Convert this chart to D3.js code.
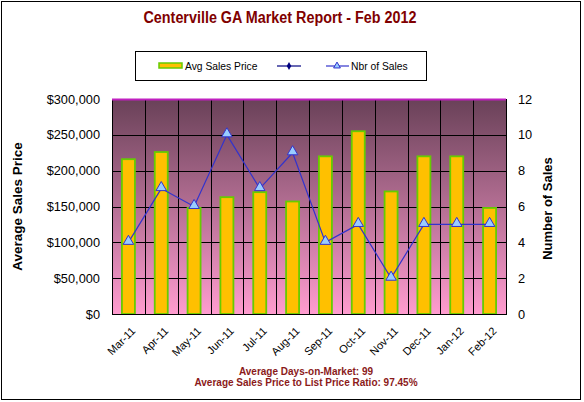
<!DOCTYPE html>
<html>
<head>
<meta charset="utf-8">
<script src="https://cdn.jsdelivr.net/npm/d3@7"></script>
<style>
  body { margin:0; background:#fff; }
  svg text { font-family: "Liberation Sans", Arial, sans-serif; }
</style>
</head>
<body>
<div id="chart"></div>
<script>
// data
var months = ["Mar-11","Apr-11","May-11","Jun-11","Jul-11","Aug-11","Sep-11","Oct-11","Nov-11","Dec-11","Jan-12","Feb-12"];
var avgPrice = [216000, 226000, 148000, 163000, 170000, 157000, 220000, 255000, 171000, 220000, 220000, 148000];
var nbrSales = [4, 7, 6, 10, 7, 9, 4, 5, 2, 5, 5, 5];
var priceTicks = [0, 50000, 100000, 150000, 200000, 250000, 300000];
var salesTicks = [0, 2, 4, 6, 8, 10, 12];

var W = 584, H = 402;
var m = { left:112, right:78, top:99, bottom:88 };
var pw = W - m.left - m.right, ph = H - m.top - m.bottom;

var svg = d3.select("#chart").append("svg")
    .attr("width", W).attr("height", H);

// outer frame
svg.append("rect").attr("x", 1.5).attr("y", 1.5)
    .attr("width", 579).attr("height", 398)
    .attr("fill", "#fff").attr("stroke", "#000").attr("stroke-width", 1);

var grad = svg.append("defs").append("linearGradient")
    .attr("id", "bg").attr("x1", 0).attr("y1", 0).attr("x2", 0).attr("y2", 1);
grad.append("stop").attr("offset", "0%").attr("stop-color", "#694158");
grad.append("stop").attr("offset", "100%").attr("stop-color", "#ff9ccf");

// title
svg.append("text").attr("x", 280).attr("y", 23)
    .attr("text-anchor", "middle").attr("font-size", 16).attr("font-weight", "bold")
    .attr("textLength", 273).attr("lengthAdjust", "spacingAndGlyphs")
    .attr("fill", "#800000").text("Centerville GA Market Report - Feb 2012");

// scales
var x = d3.scaleBand().domain(months).range([0, pw]);
var yL = d3.scaleLinear().domain([0, 300000]).range([ph, 0]);
var yR = d3.scaleLinear().domain([0, 12]).range([ph, 0]);

var g = svg.append("g").attr("transform", "translate(" + m.left + "," + m.top + ")");

g.append("rect").attr("width", pw).attr("height", ph).attr("fill", "url(#bg)");

// grid
g.selectAll(".hg").data(priceTicks).enter().append("line")
    .attr("x1", 0).attr("x2", pw)
    .attr("y1", function(d){ return Math.round(yL(d)) + 0.5; })
    .attr("y2", function(d){ return Math.round(yL(d)) + 0.5; })
    .attr("stroke", "#000");
g.selectAll(".vg").data(months).enter().append("line")
    .attr("x1", function(d){ return Math.round(x(d)) + 0.5; })
    .attr("x2", function(d){ return Math.round(x(d)) + 0.5; })
    .attr("y1", 0).attr("y2", ph)
    .attr("stroke", "#000");

// bars
var bw = 13;
g.selectAll(".bar").data(avgPrice).enter().append("rect")
    .attr("x", function(d, i){ return x(months[i]) + x.bandwidth()/2 - bw/2; })
    .attr("y", function(d){ return yL(d); })
    .attr("width", bw)
    .attr("height", function(d){ return ph - yL(d); })
    .attr("fill", "#ffc000").attr("stroke", "#66cc00").attr("stroke-width", 1.8);

// frame of plot
g.append("rect").attr("x", 0.5).attr("y", 0.5).attr("width", pw).attr("height", ph)
    .attr("fill", "none").attr("stroke", "#000");
g.append("line").attr("x1", 0).attr("x2", pw).attr("y1", 0.5).attr("y2", 0.5)
    .attr("stroke", "#c020c0").attr("stroke-width", 2);

// line series
var line = d3.line()
    .x(function(d, i){ return x(months[i]) + x.bandwidth()/2; })
    .y(function(d){ return yR(d); });
g.append("path").datum(nbrSales).attr("d", line)
    .attr("fill", "none").attr("stroke", "#3333cc").attr("stroke-width", 1.2);
var tri = d3.symbol().type(d3.symbolTriangle).size(48);
g.selectAll(".pt").data(nbrSales).enter().append("path")
    .attr("d", tri)
    .attr("transform", function(d, i){ return "translate(" + (x(months[i]) + x.bandwidth()/2) + "," + (yR(d) - 1) + ")"; })
    .attr("fill", "#99ccff").attr("stroke", "#3333cc").attr("stroke-width", 1);

// axes
var axL = g.append("g").call(d3.axisLeft(yL).tickValues(priceTicks).tickSize(0).tickPadding(12)
    .tickFormat(function(d){ return "$" + d3.format(",")(d); }));
axL.select(".domain").remove();
axL.selectAll("text").attr("font-size", 12.8).attr("fill", "#000").attr("font-family", "Liberation Sans, Arial, sans-serif");

var axR = g.append("g").attr("transform", "translate(" + pw + ",0)")
    .call(d3.axisRight(yR).tickValues(salesTicks).tickSize(0).tickPadding(12));
axR.select(".domain").remove();
axR.selectAll("text").attr("font-size", 12.8).attr("fill", "#000").attr("font-family", "Liberation Sans, Arial, sans-serif");

var axB = g.append("g").attr("transform", "translate(0," + ph + ")")
    .call(d3.axisBottom(x).tickSize(0).tickPadding(0));
axB.select(".domain").remove();
axB.selectAll("text")
    .attr("font-size", 11).attr("fill", "#000").attr("font-family", "Liberation Sans, Arial, sans-serif")
    .attr("text-anchor", "end").attr("dy", "0.35em")
    .attr("transform", "translate(5,15) rotate(-45)");

// axis titles
svg.append("text").attr("transform", "translate(22," + (m.top + ph/2) + ") rotate(-90)")
    .attr("text-anchor", "middle").attr("font-size", 13.5).attr("font-weight", "bold")
    .text("Average Sales Price");
svg.append("text").attr("transform", "translate(552," + (m.top + ph/2 + 2) + ") rotate(-90)")
    .attr("text-anchor", "middle").attr("font-size", 13).attr("font-weight", "bold")
    .text("Number of Sales");

// legend
var lg = svg.append("g");
lg.append("rect").attr("x", 135.5).attr("y", 51.5).attr("width", 291).attr("height", 29)
    .attr("fill", "#fff").attr("stroke", "#000");
lg.append("rect").attr("x", 159).attr("y", 63).attr("width", 23).attr("height", 5)
    .attr("fill", "#ffc000").attr("stroke", "#66cc00").attr("stroke-width", 1.5);
lg.append("text").attr("x", 185).attr("y", 70).attr("font-size", 10.3).text("Avg Sales Price");
lg.append("line").attr("x1", 277).attr("x2", 301).attr("y1", 66).attr("y2", 66)
    .attr("stroke", "#000080").attr("stroke-width", 1.2);
lg.append("path").attr("d", d3.symbol().type(d3.symbolDiamond).size(18))
    .attr("transform", "translate(289,66)").attr("fill", "#000080");
lg.append("line").attr("x1", 326).attr("x2", 349).attr("y1", 66).attr("y2", 66)
    .attr("stroke", "#3333cc").attr("stroke-width", 1.2);
lg.append("path").attr("d", d3.symbol().type(d3.symbolTriangle).size(20))
    .attr("transform", "translate(337,66)").attr("fill", "#99ccff").attr("stroke", "#3333cc");
lg.append("text").attr("x", 351).attr("y", 70).attr("font-size", 10.3).text("Nbr of Sales");

// footer
svg.append("text").attr("x", 306).attr("y", 375).attr("text-anchor", "middle")
    .attr("font-size", 10).attr("font-weight", "bold").attr("fill", "#8b1a1a")
    .text("Average Days-on-Market: 99");
svg.append("text").attr("x", 306).attr("y", 386).attr("text-anchor", "middle")
    .attr("font-size", 10).attr("font-weight", "bold").attr("fill", "#8b1a1a")
    .text("Average Sales Price to List Price Ratio: 97.45%");
</script>
</body>
</html>
